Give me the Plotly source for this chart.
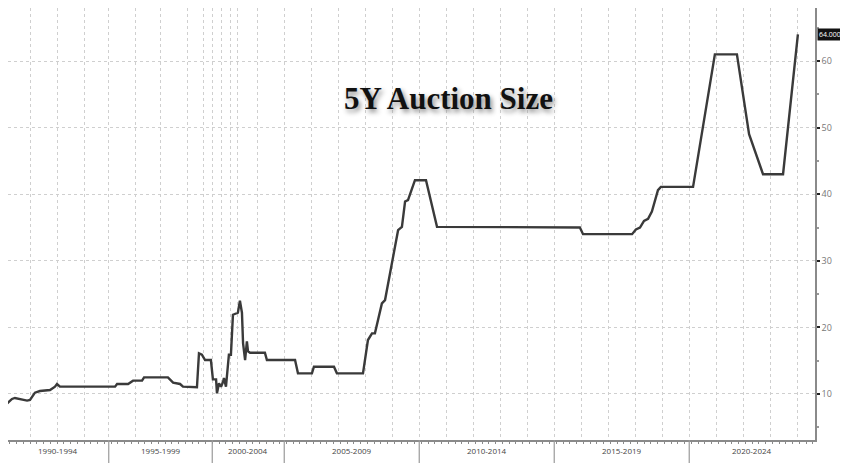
import numpy as np
import plotly.graph_objects as go

# ---- data ----
years = list(range(1990, 2025))
auctions_per_year = [12, 12, 12, 12, 11, 12, 11, 12, 7, 4, 4, 4, 3, 9, 12,
                     12, 12, 12, 12, 12, 12, 12, 12, 12, 12, 12, 12, 12, 12, 12,
                     12, 12, 12, 12, 12]

auction_index = [10, 12.9, 14.2, 16, 17.3, 22.7, 24, 26.2, 28.4, 32.9,
                 35.1, 36, 37.3, 61.8, 62.7, 67.6, 69.8, 73.8, 74.7, 85.3,
                 87.6, 90.7, 92, 98.2, 99.1, 100.4, 101.8, 104.4, 105.3, 106.7,
                 107.1, 108, 108.9, 109.8, 110.2, 111.1, 112.4, 113.3, 114.2, 116.4,
                 117.3, 118.2, 118.7, 119.6, 120.4, 120.9, 121.8, 128.4, 129.3, 141.8,
                 143.1, 149.3, 150.2, 159.1, 160.4, 172, 174.2, 176, 177.3, 180.4,
                 181.8, 185.3, 187.6, 189.3, 190.7, 192, 195.1, 200, 201.8, 204.9,
                 268.4, 269.8, 291.6, 293.3, 295.1, 296.9, 298.7, 300.4, 303.1, 304.4,
                 318.7, 328.4, 338.2, 343.6, 349.8, 358.7, 365.3]
auction_size = [8.5, 9.0, 8.7, 9.25, 9.4, 9.0, 9.1, 10.2, 10.45, 10.6,
                11.1, 11.5, 11.1, 11.1, 11.5, 11.5, 12.0, 12.0, 12.5, 12.5,
                11.7, 11.5, 11.1, 11.0, 16.1, 15.9, 15.1, 15.1, 12.2, 12.2,
                10.1, 11.6, 11.1, 11.8, 12.4, 11.1, 15.9, 15.9, 21.9, 22.2,
                24.0, 22.2, 17.6, 15.1, 17.9, 16.4, 16.2, 16.2, 15.1, 15.1,
                13.1, 13.1, 14.1, 14.1, 13.1, 13.1, 18.1, 19.1, 19.1, 23.6,
                24.1, 30.6, 34.6, 35.1, 38.9, 39.1, 42.1, 42.1, 39.6, 35.1,
                35.0, 34.0, 34.0, 34.7, 35.0, 36.0, 36.3, 37.4, 40.6, 41.1,
                41.1, 61, 61, 49, 43, 43, 64]

period_labels = ["1990-1994", "1995-1999", "2000-2004", "2005-2009",
                 "2010-2014", "2015-2019", "2020-2024"]
period_start_years = [1990, 1995, 2000, 2005, 2010, 2015, 2020]
y_ticks = [10, 20, 30, 40, 50, 60]
last_label = "64.000"
title_text = "5Y Auction Size"

# ---- derived scale positions ----
year_start = dict(zip(years, np.concatenate([[0], np.cumsum(auctions_per_year)[:-1]])))
x_range = [14.22, 372.9]
y_range = [3.09, 67.96]

FIG_W, FIG_H = 840, 455   # page body adds an 8px margin
PLOT_W, PLOT_H = 807, 432
M_R = FIG_W - PLOT_W
M_B = FIG_H - PLOT_H

fig = go.Figure()
fig.add_trace(go.Scatter(x=auction_index, y=auction_size, mode="lines",
                         line=dict(color="#3a3a3a", width=2.4),
                         hoverinfo="skip", showlegend=False))

grid_years = [year_start[y] for y in years if x_range[0] <= year_start[y] <= x_range[1]]

fig.update_xaxes(range=x_range, tickvals=grid_years, showticklabels=False,
                 showgrid=True, gridcolor="#cfcfcf", griddash="dot", gridwidth=1,
                 showline=True, linecolor="#8a8a8a", linewidth=1.5,
                 ticks="", zeroline=False,
                 minor=dict(dtick=3, tick0=0, ticks="outside", ticklen=2,
                            tickcolor="#8a8a8a", showgrid=False))
fig.update_yaxes(range=y_range, side="right", tickvals=y_ticks,
                 showgrid=True, gridcolor="#cfcfcf", griddash="dot", gridwidth=1,
                 showline=True, linecolor="#8a8a8a", linewidth=1.5,
                 ticks="outside", ticklen=3, tickcolor="#222", tickwidth=2,
                 tickfont=dict(family="Open Sans", size=9, color="#777"),
                 zeroline=False,
                 minor=dict(dtick=5, ticks="outside", ticklen=2, tickcolor="#999",
                            showgrid=False))

shapes = []
annotations = []
for i, (lab, sy) in enumerate(zip(period_labels, period_start_years)):
    x0 = max(year_start[sy], x_range[0])
    ey = sy + 5
    x1 = year_start[ey] if ey in year_start else x_range[1]
    x1 = min(x1, x_range[1])
    if i > 0:
        shapes.append(dict(type="line", xref="x", yref="paper",
                           x0=year_start[sy], x1=year_start[sy],
                           y0=0, y1=-M_B / PLOT_H,
                           line=dict(color="#9a9a9a", width=1.2)))
    annotations.append(dict(x=(x0 + x1) / 2, y=-10 / PLOT_H, xref="x", yref="paper",
                            text=lab, showarrow=False, xanchor="center",
                            yanchor="middle",
                            font=dict(family="Open Sans", size=8, color="#444")))

annotations.append(dict(x=1.0, y=auction_size[-1], xref="paper", yref="y",
                        text=last_label, showarrow=False, xanchor="left",
                        yanchor="middle", xshift=2, bgcolor="#111111",
                        borderpad=1,
                        font=dict(family="Open Sans", size=7, color="white")))
annotations.append(dict(x=440 / PLOT_W, y=1 - 90 / PLOT_H, xref="paper", yref="paper",
                        text="<b>" + title_text + "</b>", showarrow=False,
                        xanchor="center", yanchor="middle",
                        font=dict(family="Liberation Serif", size=31, color="#111",
                                  shadow="2px 3px 5px #888")))

fig.update_layout(width=FIG_W, height=FIG_H,
                  margin=dict(l=0, r=M_R, t=0, b=M_B),
                  paper_bgcolor="white", plot_bgcolor="white",
                  shapes=shapes, annotations=annotations,
                  showlegend=False)

fig.write_html("out.html")
